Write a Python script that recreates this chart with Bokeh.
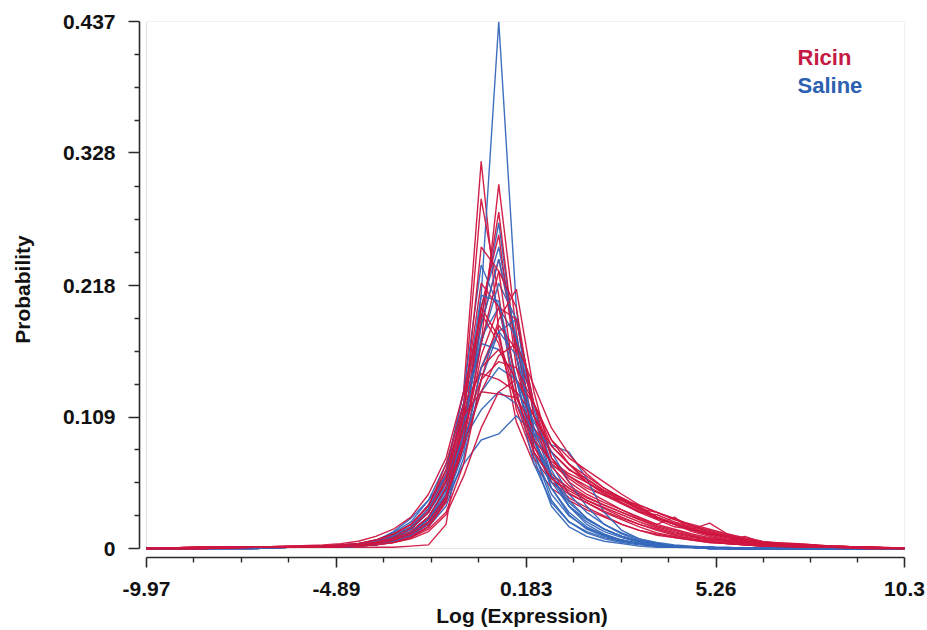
import numpy as np
from bokeh.plotting import figure
from bokeh.models import FixedTicker, Label, Range1d
from bokeh.embed import file_html
from bokeh.resources import INLINE

# ---------------- data ----------------
x_bins = [-9.97, -8.54, -7.13, -6.19, -5.25, -4.78, -4.31, -3.84, -3.37, -2.90, -2.43, -1.96,
          -1.49, -1.02, -0.55, -0.08, 0.39, 0.86, 1.33, 1.80, 2.27, 2.74, 3.21, 3.68, 4.15,
          4.62, 5.09, 5.56, 6.03, 6.50, 7.44, 8.38, 9.32, 10.3]

ricin_1 = [0, 0.0005, 0.001, 0.001, 0.002, 0.002, 0.003, 0.006, 0.011, 0.02, 0.035, 0.062, 0.13, 0.321, 0.18, 0.105, 0.07, 0.05, 0.04, 0.032, 0.026, 0.02, 0.015, 0.011, 0.009, 0.007, 0.005, 0.004, 0.003, 0.002, 0.001, 0.0005, 0, 0]
ricin_2 = [0, 0, 0.001, 0.001, 0.001, 0.002, 0.003, 0.005, 0.009, 0.017, 0.03, 0.055, 0.12, 0.29, 0.21, 0.115, 0.075, 0.055, 0.045, 0.038, 0.03, 0.024, 0.018, 0.013, 0.01, 0.008, 0.006, 0.004, 0.003, 0.002, 0.001, 0.001, 0, 0]
ricin_3 = [0, 0, 0.001, 0.001, 0.001, 0.001, 0.001, 0.001, 0.001, 0.002, 0.003, 0.02, 0.11, 0.17, 0.302, 0.18, 0.085, 0.055, 0.042, 0.034, 0.027, 0.02, 0.015, 0.012, 0.009, 0.007, 0.005, 0.004, 0.003, 0.002, 0.001, 0.0005, 0, 0]
ricin_4 = [0, 0.001, 0.001, 0.001, 0.001, 0.002, 0.003, 0.004, 0.007, 0.012, 0.022, 0.042, 0.095, 0.19, 0.279, 0.16, 0.09, 0.062, 0.05, 0.04, 0.033, 0.026, 0.02, 0.016, 0.012, 0.009, 0.007, 0.005, 0.004, 0.003, 0.002, 0.001, 0.0005, 0]
ricin_5 = [0, 0, 0.0005, 0.001, 0.002, 0.002, 0.002, 0.004, 0.007, 0.013, 0.024, 0.045, 0.1, 0.2, 0.26, 0.15, 0.095, 0.07, 0.058, 0.048, 0.04, 0.032, 0.025, 0.02, 0.026, 0.015, 0.012, 0.009, 0.006, 0.004, 0.002, 0.001, 0.001, 0]
ricin_6 = [0, 0, 0.001, 0.001, 0.001, 0.002, 0.003, 0.005, 0.008, 0.014, 0.026, 0.05, 0.105, 0.185, 0.24, 0.17, 0.1, 0.07, 0.06, 0.052, 0.044, 0.037, 0.03, 0.024, 0.018, 0.016, 0.021, 0.012, 0.008, 0.005, 0.004, 0.002, 0.001, 0]
ricin_7 = [0, 0.001, 0.001, 0.002, 0.002, 0.003, 0.004, 0.006, 0.01, 0.018, 0.032, 0.06, 0.12, 0.22, 0.2, 0.14, 0.085, 0.06, 0.05, 0.042, 0.036, 0.03, 0.024, 0.018, 0.014, 0.01, 0.008, 0.006, 0.01, 0.005, 0.003, 0.001, 0.001, 0.0005]
ricin_8 = [0, 0, 0.001, 0.001, 0.001, 0.001, 0.002, 0.004, 0.006, 0.011, 0.02, 0.04, 0.09, 0.16, 0.2, 0.19, 0.12, 0.075, 0.06, 0.05, 0.044, 0.04, 0.032, 0.025, 0.02, 0.016, 0.012, 0.009, 0.006, 0.004, 0.003, 0.002, 0.001, 0]
ricin_9 = [0, 0, 0, 0.001, 0.001, 0.002, 0.002, 0.003, 0.006, 0.01, 0.018, 0.038, 0.085, 0.15, 0.185, 0.165, 0.12, 0.085, 0.07, 0.055, 0.045, 0.038, 0.03, 0.028, 0.022, 0.018, 0.014, 0.01, 0.007, 0.005, 0.003, 0.002, 0.001, 0]
ricin_10 = [0, 0.001, 0.001, 0.001, 0.002, 0.002, 0.003, 0.005, 0.009, 0.016, 0.03, 0.055, 0.11, 0.15, 0.165, 0.14, 0.11, 0.08, 0.065, 0.058, 0.048, 0.042, 0.035, 0.026, 0.02, 0.014, 0.01, 0.007, 0.005, 0.003, 0.002, 0.001, 0.0005, 0]
ricin_11 = [0, 0, 0.001, 0.001, 0.002, 0.003, 0.004, 0.007, 0.012, 0.02, 0.035, 0.07, 0.12, 0.145, 0.14, 0.13, 0.11, 0.085, 0.07, 0.06, 0.05, 0.042, 0.034, 0.026, 0.02, 0.015, 0.011, 0.008, 0.005, 0.003, 0.002, 0.001, 0, 0]
ricin_12 = [0, 0, 0.0005, 0.001, 0.001, 0.001, 0.002, 0.003, 0.005, 0.008, 0.014, 0.028, 0.06, 0.1, 0.13, 0.14, 0.12, 0.09, 0.075, 0.065, 0.055, 0.045, 0.036, 0.03, 0.024, 0.019, 0.015, 0.011, 0.008, 0.005, 0.003, 0.002, 0.001, 0]
ricin_13 = [0, 0.001, 0.001, 0.002, 0.002, 0.003, 0.004, 0.007, 0.012, 0.02, 0.036, 0.065, 0.11, 0.13, 0.128, 0.125, 0.1, 0.08, 0.066, 0.055, 0.046, 0.038, 0.031, 0.025, 0.02, 0.016, 0.013, 0.01, 0.008, 0.005, 0.004, 0.002, 0.001, 0.0005]
ricin_14 = [0, 0, 0.001, 0.001, 0.001, 0.002, 0.002, 0.003, 0.005, 0.009, 0.016, 0.03, 0.07, 0.14, 0.19, 0.215, 0.13, 0.075, 0.055, 0.045, 0.038, 0.032, 0.026, 0.02, 0.016, 0.012, 0.009, 0.007, 0.005, 0.003, 0.002, 0.001, 0.0005, 0]
ricin_15 = [0, 0, 0.001, 0.001, 0.001, 0.001, 0.002, 0.003, 0.005, 0.009, 0.018, 0.04, 0.11, 0.25, 0.23, 0.13, 0.08, 0.058, 0.048, 0.04, 0.034, 0.028, 0.022, 0.017, 0.013, 0.01, 0.008, 0.006, 0.004, 0.003, 0.002, 0.001, 0, 0]
ricin_16 = [0, 0.001, 0.001, 0.001, 0.002, 0.002, 0.003, 0.005, 0.009, 0.017, 0.03, 0.058, 0.115, 0.2, 0.175, 0.125, 0.09, 0.072, 0.062, 0.055, 0.047, 0.04, 0.033, 0.03, 0.025, 0.019, 0.014, 0.01, 0.007, 0.004, 0.003, 0.002, 0.001, 0.0005]
ricin_17 = [0, 0, 0.001, 0.001, 0.001, 0.002, 0.002, 0.004, 0.007, 0.012, 0.022, 0.043, 0.09, 0.17, 0.23, 0.2, 0.11, 0.068, 0.052, 0.043, 0.036, 0.03, 0.024, 0.019, 0.015, 0.011, 0.008, 0.006, 0.004, 0.003, 0.002, 0.001, 0.0005, 0]
ricin_18 = [0, 0, 0.001, 0.001, 0.001, 0.002, 0.003, 0.004, 0.007, 0.012, 0.022, 0.042, 0.085, 0.13, 0.16, 0.17, 0.135, 0.1, 0.078, 0.062, 0.05, 0.041, 0.033, 0.026, 0.021, 0.017, 0.013, 0.01, 0.007, 0.005, 0.003, 0.001, 0.001, 0]
ricin_19 = [0, 0.001, 0.001, 0.002, 0.003, 0.004, 0.006, 0.01, 0.016, 0.026, 0.045, 0.075, 0.13, 0.195, 0.17, 0.12, 0.08, 0.058, 0.046, 0.038, 0.031, 0.025, 0.02, 0.015, 0.011, 0.008, 0.006, 0.004, 0.003, 0.002, 0.001, 0.001, 0, 0]
ricin_20 = [0, 0, 0.001, 0.001, 0.001, 0.002, 0.003, 0.005, 0.008, 0.014, 0.026, 0.05, 0.1, 0.14, 0.155, 0.15, 0.12, 0.09, 0.07, 0.057, 0.048, 0.04, 0.036, 0.03, 0.024, 0.02, 0.016, 0.012, 0.009, 0.006, 0.003, 0.002, 0.001, 0]

saline_1 = [0, 0, 0, 0.001, 0.001, 0.001, 0.002, 0.003, 0.006, 0.011, 0.02, 0.04, 0.085, 0.21, 0.437, 0.2, 0.075, 0.035, 0.018, 0.01, 0.006, 0.004, 0.002, 0.001, 0.001, 0.0005, 0, 0, 0, 0, 0, 0, 0, 0]
saline_2 = [0, 0, 0.001, 0.001, 0.001, 0.002, 0.003, 0.005, 0.009, 0.016, 0.03, 0.055, 0.1, 0.19, 0.27, 0.16, 0.08, 0.04, 0.022, 0.013, 0.008, 0.005, 0.003, 0.002, 0.001, 0.001, 0, 0, 0, 0, 0, 0, 0, 0]
saline_3 = [0, 0, 0, 0.001, 0.001, 0.001, 0.002, 0.004, 0.008, 0.014, 0.026, 0.05, 0.1, 0.2, 0.25, 0.17, 0.09, 0.05, 0.03, 0.018, 0.011, 0.007, 0.004, 0.003, 0.002, 0.001, 0.001, 0, 0, 0, 0, 0, 0, 0]
saline_4 = [0, 0, 0.001, 0.001, 0.002, 0.002, 0.003, 0.006, 0.011, 0.02, 0.036, 0.065, 0.13, 0.235, 0.2, 0.13, 0.07, 0.038, 0.022, 0.014, 0.009, 0.006, 0.004, 0.002, 0.001, 0.001, 0, 0, 0, 0, 0, 0, 0, 0]
saline_5 = [0, 0, 0, 0.001, 0.001, 0.001, 0.002, 0.004, 0.007, 0.012, 0.024, 0.045, 0.09, 0.17, 0.22, 0.19, 0.11, 0.06, 0.035, 0.022, 0.014, 0.009, 0.005, 0.003, 0.002, 0.001, 0.001, 0, 0, 0, 0, 0, 0, 0]
saline_6 = [0, 0, 0.001, 0.001, 0.001, 0.002, 0.003, 0.005, 0.009, 0.016, 0.03, 0.055, 0.105, 0.175, 0.2, 0.175, 0.115, 0.07, 0.045, 0.03, 0.02, 0.013, 0.008, 0.005, 0.003, 0.002, 0.001, 0.001, 0, 0, 0, 0, 0, 0]
saline_7 = [0, 0, 0, 0.001, 0.001, 0.001, 0.002, 0.003, 0.006, 0.01, 0.018, 0.035, 0.075, 0.14, 0.18, 0.19, 0.12, 0.065, 0.04, 0.025, 0.016, 0.01, 0.006, 0.004, 0.002, 0.001, 0.001, 0, 0, 0, 0, 0, 0, 0]
saline_8 = [0, 0, 0.001, 0.001, 0.002, 0.002, 0.004, 0.007, 0.013, 0.022, 0.04, 0.07, 0.12, 0.17, 0.165, 0.14, 0.09, 0.055, 0.035, 0.024, 0.016, 0.01, 0.006, 0.004, 0.002, 0.001, 0.001, 0, 0, 0, 0, 0, 0, 0]
saline_9 = [0, 0, 0.001, 0.001, 0.002, 0.003, 0.004, 0.006, 0.014, 0.025, 0.04, 0.06, 0.09, 0.115, 0.13, 0.12, 0.09, 0.06, 0.035, 0.02, 0.012, 0.007, 0.004, 0.002, 0.001, 0.001, 0, 0, 0, 0, 0, 0, 0, 0]
saline_10 = [0, 0, 0, 0.001, 0.001, 0.001, 0.002, 0.004, 0.008, 0.014, 0.025, 0.042, 0.07, 0.09, 0.095, 0.11, 0.095, 0.086, 0.08, 0.058, 0.03, 0.015, 0.008, 0.004, 0.002, 0.001, 0.001, 0, 0, 0, 0, 0, 0, 0]
saline_11 = [0, 0, 0, 0.001, 0.001, 0.001, 0.002, 0.004, 0.007, 0.013, 0.025, 0.048, 0.095, 0.185, 0.24, 0.175, 0.095, 0.05, 0.028, 0.016, 0.01, 0.006, 0.004, 0.002, 0.001, 0.001, 0, 0, 0, 0, 0, 0, 0, 0]
saline_12 = [0, 0, 0.001, 0.001, 0.001, 0.002, 0.003, 0.005, 0.01, 0.018, 0.033, 0.06, 0.115, 0.21, 0.205, 0.14, 0.08, 0.045, 0.027, 0.017, 0.011, 0.007, 0.004, 0.003, 0.002, 0.001, 0, 0, 0, 0, 0, 0, 0, 0]
saline_13 = [0, 0, 0.001, 0.001, 0.001, 0.002, 0.003, 0.005, 0.009, 0.016, 0.03, 0.052, 0.09, 0.13, 0.15, 0.14, 0.105, 0.08, 0.055, 0.035, 0.02, 0.012, 0.007, 0.004, 0.002, 0.001, 0.001, 0, 0, 0, 0, 0, 0, 0]
saline_14 = [0, 0, 0, 0.001, 0.001, 0.001, 0.002, 0.003, 0.006, 0.011, 0.021, 0.04, 0.08, 0.15, 0.18, 0.16, 0.1, 0.06, 0.038, 0.025, 0.016, 0.01, 0.006, 0.004, 0.002, 0.001, 0, 0, 0, 0, 0, 0, 0, 0]

ricin_series = [ricin_1, ricin_2, ricin_3, ricin_4, ricin_5, ricin_6, ricin_7, ricin_8, ricin_9, ricin_10,
                ricin_11, ricin_12, ricin_13, ricin_14, ricin_15, ricin_16, ricin_17, ricin_18, ricin_19, ricin_20]
saline_series = [saline_1, saline_2, saline_3, saline_4, saline_5, saline_6, saline_7,
                 saline_8, saline_9, saline_10, saline_11, saline_12, saline_13, saline_14]

x_ticks = [-9.97, -4.89, 0.183, 5.26, 10.3]
x_tick_labels = ["-9.97", "-4.89", "0.183", "5.26", "10.3"]
y_ticks = [0, 0.109, 0.218, 0.328, 0.437]
y_tick_labels = ["0", "0.109", "0.218", "0.328", "0.437"]

group_names = ["Ricin", "Saline"]
RED = "#cf1540"
BLUE = "#3567ba"

# ---------------- figure ----------------
FONT = "Liberation Sans"
x_lo = x_ticks[0] - 7 / 37.395
y_lo = -9 / 1206.0
p = figure(width=927, height=630, output_backend="svg", toolbar_location=None,
           x_range=Range1d(x_lo, x_ticks[-1]), y_range=Range1d(y_lo, y_ticks[-1]),
           min_border_left=139, min_border_right=23, min_border_top=21, min_border_bottom=73)
p.outline_line_color = None
p.xgrid.visible = False
p.ygrid.visible = False
p.background_fill_color = "white"
p.border_fill_color = "white"

# light plotting box
p.quad(left=[x_ticks[0]], right=[x_ticks[-1]], bottom=[y_ticks[0]], top=[y_ticks[-1]],
       fill_alpha=0, line_color="#e4e4e4", line_width=1.2)

# interleave the two groups so that both stay visible in the dense centre
xs, ys, cols = [], [], []
n = max(len(ricin_series), len(saline_series))
for i in range(n):
    if i < len(ricin_series):
        xs.append(x_bins); ys.append(ricin_series[i]); cols.append(RED)
    if i < len(saline_series):
        xs.append(x_bins); ys.append(saline_series[i]); cols.append(BLUE)
p.multi_line(xs=xs, ys=ys, line_color=cols, line_width=1.4, line_alpha=0.95)

def minor_between(ticks, n=4):
    out = []
    for a, b in zip(ticks[:-1], ticks[1:]):
        out.extend(list(np.linspace(a, b, n + 1)[1:-1]))
    return out

for ax, ticks, labels in ((p.xaxis[0], x_ticks, x_tick_labels), (p.yaxis[0], y_ticks, y_tick_labels)):
    ax.ticker = FixedTicker(ticks=ticks, minor_ticks=minor_between(ticks))
    ax.major_label_overrides = {t: l for t, l in zip(ticks, labels)}
    ax.bounds = (ticks[0], ticks[-1])
    ax.axis_line_color = "#2a2a2a"
    ax.axis_line_width = 1.6
    ax.major_tick_line_color = "#2a2a2a"
    ax.major_tick_line_width = 1.6
    ax.minor_tick_line_color = "#2a2a2a"
    ax.minor_tick_line_width = 1.4
    ax.major_tick_in = 0
    ax.minor_tick_in = 0
    ax.major_label_text_font = FONT
    ax.major_label_text_font_style = "bold"
    ax.major_label_text_font_size = "21px"
    ax.major_label_text_color = "#111111"
    ax.axis_label_text_font = FONT
    ax.axis_label_text_font_style = "bold"
    ax.axis_label_text_font_size = "21px"
    ax.axis_label_text_color = "#111111"

p.xaxis.axis_label = "Log (Expression)"
p.yaxis.axis_label = "Probability"
p.xaxis.major_tick_out = 10
p.xaxis.minor_tick_out = 5
p.xaxis.major_label_standoff = 14
p.xaxis.axis_label_standoff = 5
p.yaxis.major_tick_out = 11
p.yaxis.minor_tick_out = 5
p.yaxis.major_label_standoff = 13
p.yaxis.axis_label_standoff = 26

p.add_layout(Label(x=7.44, y=0.4069, text=group_names[0], text_color="#c41a44",
                   text_font=FONT, text_font_style="bold", text_font_size="22px",
                   text_baseline="middle", text_align="left"))
p.add_layout(Label(x=7.44, y=0.3837, text=group_names[1], text_color="#2c60b0",
                   text_font=FONT, text_font_style="bold", text_font_size="22px",
                   text_baseline="middle", text_align="left"))

open("out.html", "w").write(file_html(p, INLINE))
